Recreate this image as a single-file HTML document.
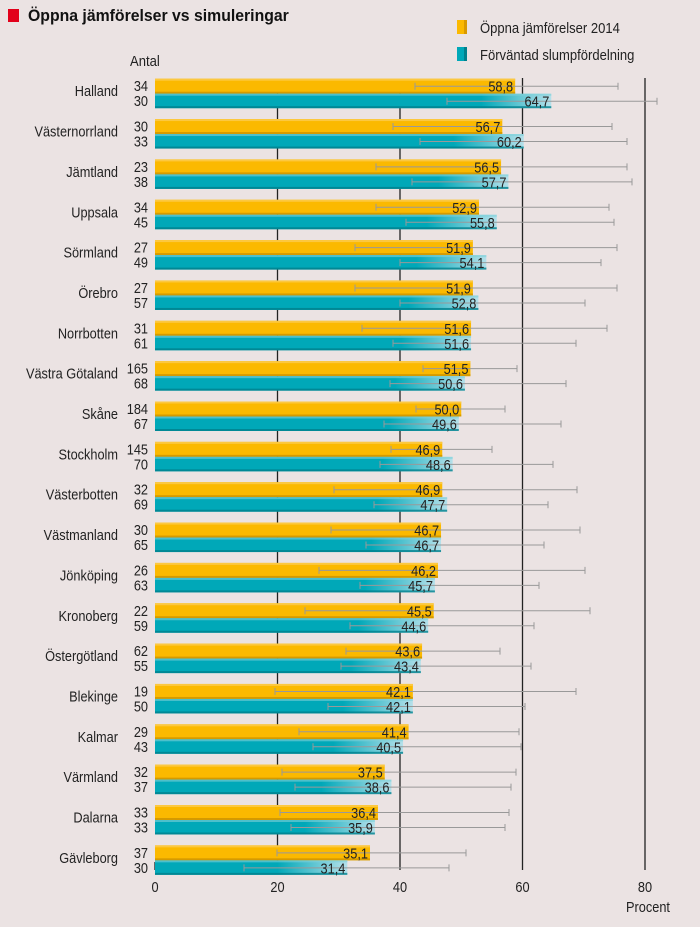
<!DOCTYPE html>
<html><head><meta charset="utf-8"><style>
body{margin:0;background:#ebe3e3;}
svg{display:block;font-family:"Liberation Sans Narrow","Liberation Sans",sans-serif;}
</style></head><body>
<svg id="s" width="700" height="927" xmlns="http://www.w3.org/2000/svg">
<rect width="700" height="927" fill="#ebe3e3"/>
<rect x="8" y="9" width="11" height="13" fill="#e2001a"/>
<text transform="translate(28,21) scale(0.93,1)" font-size="17" font-weight="bold" fill="#111">Öppna jämförelser vs simuleringar</text>
<rect x="457" y="20" width="10" height="14" fill="#fbb900"/><rect x="464" y="20" width="3" height="14" fill="#d99a00"/>
<text transform="translate(480,33) scale(0.87,1)" font-size="15" fill="#222">Öppna jämförelser 2014</text>
<rect x="457" y="47" width="10" height="14" fill="#00a8b8"/><rect x="464" y="47" width="3" height="14" fill="#00808c"/>
<text transform="translate(480,60) scale(0.87,1)" font-size="15" fill="#222">Förväntad slumpfördelning</text>
<text transform="translate(130,66) scale(0.87,1)" font-size="15" fill="#222">Antal</text>
<g id="g"></g>
</svg>
<script>
var d=[["Halland",34,58.8,415,618,30,64.7,447,657],["Västernorrland",30,56.7,393,612,33,60.2,420,627],["Jämtland",23,56.5,376,627,38,57.7,412,632],["Uppsala",34,52.9,376,609,45,55.8,406,614],["Sörmland",27,51.9,355,617,49,54.1,400,601],["Örebro",27,51.9,355,617,57,52.8,400,585],["Norrbotten",31,51.6,362,607,61,51.6,393,576],["Västra Götaland",165,51.5,423,517,68,50.6,390,566],["Skåne",184,50.0,416,505,67,49.6,384,561],["Stockholm",145,46.9,391,492,70,48.6,380,553],["Västerbotten",32,46.9,334,577,69,47.7,374,548],["Västmanland",30,46.7,331,580,65,46.7,366,544],["Jönköping",26,46.2,319,585,63,45.7,360,539],["Kronoberg",22,45.5,305,590,59,44.6,350,534],["Östergötland",62,43.6,346,500,55,43.4,341,531],["Blekinge",19,42.1,275,576,50,42.1,328,525],["Kalmar",29,41.4,299,519,43,40.5,313,521],["Värmland",32,37.5,282,516,37,38.6,295,511],["Dalarna",33,36.4,280,509,33,35.9,291,505],["Gävleborg",37,35.1,277,466,30,31.4,244,449]];
var X=function(v){return 155+v*6.125};var h='<defs>';
function T(x,y,s,a,fs){return '<text transform="translate('+x+','+y+') scale(0.85,1)" font-size="'+(fs||15)+'" text-anchor="'+(a||'start')+'" fill="#222">'+s+'</text>';}
d.forEach(function(r,i){var e=X(r[6]);h+='<linearGradient id="t'+i+'" gradientUnits="userSpaceOnUse" x1="'+(e-70)+'" x2="'+e+'" y1="0" y2="0"><stop offset="0" stop-color="#00a8b8"/><stop offset="1" stop-color="#b4e0ea"/></linearGradient>';});
h+='</defs>';
[20,40,60,80].forEach(function(v){h+='<line x1="'+X(v)+'" y1="'+(v>50?78:80)+'" x2="'+X(v)+'" y2="870" stroke="#222" stroke-width="1.3"/>';});
h+='<line x1="155" y1="862" x2="155" y2="870" stroke="#222" stroke-width="1.3"/>';
function fmt(v){return v.toFixed(1).replace('.',',')}
d.forEach(function(r,i){var y=78.7+40.35*i;var eo=X(r[2]),et=X(r[6]);
h+='<rect x="155" y="'+y+'" width="'+(eo-155)+'" height="15" fill="#fbb900"/>';
h+='<rect x="155" y="'+y+'" width="'+(eo-155)+'" height="2" fill="#fcc840"/>';
h+='<rect x="155" y="'+(y+13)+'" width="'+(eo-155)+'" height="2" fill="#d59a00"/>';
h+='<rect x="155" y="'+(y+15)+'" width="'+(et-155)+'" height="14.5" fill="url(#t'+i+')"/>';
h+='<rect x="155" y="'+(y+15)+'" width="'+(et-155)+'" height="2" fill="#7fd0d8" opacity=".6"/>';
h+='<rect x="155" y="'+(y+27.5)+'" width="'+(et-155)+'" height="2" fill="#00808c" opacity=".8"/>';
[[r[3],r[4],y+7.5],[r[7],r[8],y+22.5]].forEach(function(b){h+='<line x1="'+b[0]+'" y1="'+b[2]+'" x2="'+b[1]+'" y2="'+b[2]+'" stroke="#999" stroke-width="1"/><line x1="'+b[0]+'" y1="'+(b[2]-3.5)+'" x2="'+b[0]+'" y2="'+(b[2]+3.5)+'" stroke="#999"/><line x1="'+b[1]+'" y1="'+(b[2]-3.5)+'" x2="'+b[1]+'" y2="'+(b[2]+3.5)+'" stroke="#999"/>';});
h+=T(eo-2,y+13,fmt(r[2]),'end');
h+=T(et-2,y+28,fmt(r[6]),'end');
h+=T(148,y+12.5,r[1],'end');
h+=T(148,y+27.5,r[5],'end');
h+=T(118,y+17.5,r[0],'end');});
[0,20,40,60,80].forEach(function(v){h+=T(X(v),892,v,'middle');});
h+=T(648,912,'Procent','middle');
document.getElementById('g').innerHTML=h;
</script>
</body></html>
